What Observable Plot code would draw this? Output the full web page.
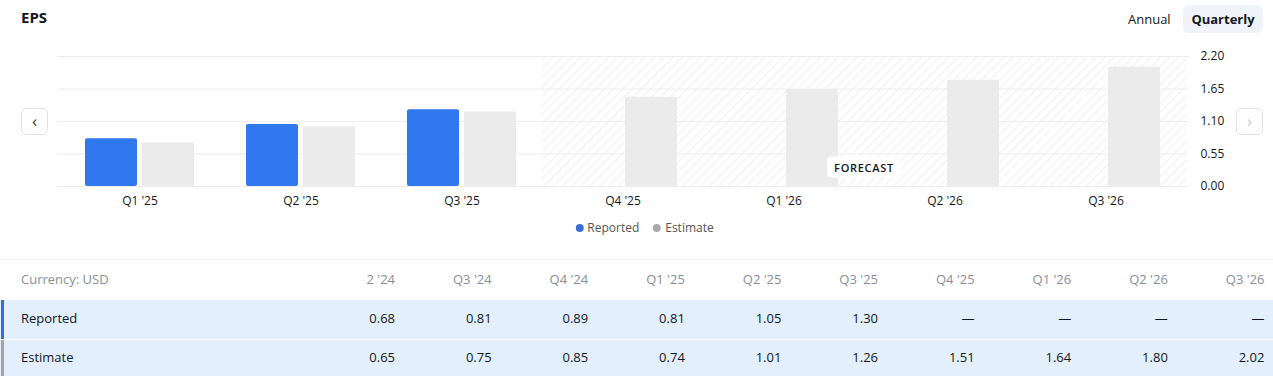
<!DOCTYPE html>
<html>
<head>
<meta charset="utf-8">
<script src="https://cdn.jsdelivr.net/npm/d3@7"></script>
<script src="https://cdn.jsdelivr.net/npm/@observablehq/plot@0.6"></script>
<style>
  html, body { margin: 0; padding: 0; background: #fff; }
  #root { position: relative; width: 1273px; height: 376px; overflow: hidden; font-family: "Open Sans", "Noto Sans", sans-serif; color: #131722; }
  .abs { position: absolute; }
  #title { left: 21px; top: 7px; font-size: 15px; font-weight: 700; }
  #annual { left: 1128px; top: 10px; font-size: 13px; color: #131722; }
  #quarterly { left: 1183px; top: 5px; width: 80px; height: 28px; line-height: 28px; text-align: center; background: #f0f3fa; border-radius: 6px; font-size: 13px; font-weight: 700; }
  .navbtn { width: 27px; height: 27px; border: 1px solid #e0e3eb; border-radius: 5px; background: #fff; text-align: center; line-height: 24px; font-size: 17px; box-sizing: border-box; }
  #forecast { height: 21px; line-height: 21px; padding: 0 7px; background: #fff; border-radius: 4px; font-size: 11px; font-weight: 600; letter-spacing: 0.7px; color: #131722; transform: translate(-50%, -50%); white-space: nowrap; }
  #legend { top: 219px; font-size: 12px; color: #555; display: flex; gap: 14px; transform: translateX(-50%); white-space: nowrap; }
  #legend span.dot { display: inline-block; width: 8px; height: 8px; border-radius: 50%; margin-right: 4px; }
  .cell { position: absolute; text-align: right; font-size: 13px; white-space: nowrap; }
</style>
</head>
<body>
<div id="root">
  <div id="title" class="abs">EPS</div>
  <div id="annual" class="abs">Annual</div>
  <div id="quarterly" class="abs">Quarterly</div>
  <div id="chart" class="abs" style="left:0;top:40px;"></div>
  <div class="abs navbtn" style="left:21px;top:108px;color:#333;">&#8249;</div>
  <div class="abs navbtn" style="left:1236px;top:108px;color:#c8c8c8;">&#8250;</div>
  <div id="forecast" class="abs">FORECAST</div>
  <div id="legend" class="abs"></div>
  <div id="table" class="abs" style="left:0;top:258px;width:1273px;height:118px;"></div>
</div>
<script>
// ---- data ----
const quarters = ["Q1 '25", "Q2 '25", "Q3 '25", "Q4 '25", "Q1 '26", "Q2 '26", "Q3 '26"];
const reported = [0.81, 1.05, 1.30, null, null, null, null];
const estimate = [0.74, 1.01, 1.26, 1.51, 1.64, 1.80, 2.02];
const forecastQuarters = ["Q4 '25", "Q1 '26", "Q2 '26", "Q3 '26"];
const yTicks = [0, 0.55, 1.10, 1.65, 2.20];
const seriesNames = ["Reported", "Estimate"];

// table (the first column is scrolled partly out of view in the reference)
const tableQuarters = ["2 '24", "Q3 '24", "Q4 '24", "Q1 '25", "Q2 '25", "Q3 '25", "Q4 '25", "Q1 '26", "Q2 '26", "Q3 '26"];
const tableReported = [0.68, 0.81, 0.89, 0.81, 1.05, 1.30, null, null, null, null];
const tableEstimate = [0.65, 0.75, 0.85, 0.74, 1.01, 1.26, 1.51, 1.64, 1.80, 2.02];
const currencyLabel = "Currency: USD";

// ---- colors ----
const blue = "#3177ee";
const grey = "#ebebeb";

const rows = quarters.map((q, i) => ({q, r: reported[i], e: estimate[i]}));
const paddingInner = 0.325;

const plot = Plot.plot({
  width: 1273,
  height: 175,
  marginLeft: 57,
  marginRight: 85,
  marginTop: 16,
  marginBottom: 29,
  style: {fontFamily: "'Open Sans', 'Noto Sans', sans-serif", fontSize: "12px", color: "#131722", background: "transparent"},
  x: {domain: quarters, paddingInner, paddingOuter: paddingInner / 2, align: 0.5, axis: null, label: null},
  y: {domain: [0, 2.2], axis: null, label: null},
  marks: [
    Plot.barY(forecastQuarters, {x: d => d, y1: 0, y2: 2.2, fill: "url(#hatch)", insetLeft: -26.25, insetRight: -26.25}),
    Plot.gridY(yTicks, {stroke: "#ececec", strokeOpacity: 1}),
    Plot.barY(rows.filter(d => d.r != null), {x: "q", y: "r", fill: blue, insetRight: 57, rx: 2}),
    Plot.barY(rows, {x: "q", y: "e", fill: grey, insetLeft: 57, rx: 1}),
    Plot.axisX({tickSize: 0, tickPadding: 10, fill: "#131722", fontSize: 12, label: null}),
    Plot.axisY(yTicks, {anchor: "right", tickSize: 0, tickPadding: 12, tickFormat: d3.format(".2f"), textAnchor: "start", fill: "#131722", fontSize: 12, label: null})
  ]
});

// hatch pattern
const svg = d3.select(plot);
const defs = svg.insert("defs", ":first-child");
const pat = defs.append("pattern").attr("id", "hatch").attr("patternUnits", "userSpaceOnUse")
  .attr("width", 6.5).attr("height", 6.5).attr("patternTransform", "rotate(45)");
pat.append("rect").attr("width", 6.5).attr("height", 6.5).attr("fill", "#fff");
pat.append("line").attr("x1", 0.5).attr("y1", 0).attr("x2", 0.5).attr("y2", 6.5).attr("stroke", "#f0f0f0").attr("stroke-width", 1);
document.getElementById("chart").appendChild(plot);

// forecast label positioned through the x and y scales
const xs = plot.scale("x");
const ys = plot.scale("y");
const gap = (xs.step - xs.bandwidth) / 2;
const fLeft = xs.apply(forecastQuarters[0]) - gap;
const fRight = xs.apply(forecastQuarters[forecastQuarters.length - 1]) + xs.bandwidth + gap;
const fc = document.getElementById("forecast");
fc.style.left = ((fLeft + fRight) / 2) + "px";
fc.style.top = (40 + ys.apply(0.33)) + "px";

// legend
const legend = document.getElementById("legend");
legend.style.left = ((xs.range[0] + xs.range[1]) / 2 + 22) + "px";
[[seriesNames[0], "#3a6fd8"], [seriesNames[1], "#aaaaaa"]].forEach(([name, c]) => {
  const s = document.createElement("div");
  s.innerHTML = `<span class="dot" style="background:${c}"></span>${name}`;
  legend.appendChild(s);
});

// table
const table = document.getElementById("table");
table.innerHTML = `
  <div class="abs" style="left:0;top:1px;width:1273px;height:1px;background:#f0f3fa"></div>
  <div class="abs" style="left:0;top:42px;width:1273px;height:39px;background:#e3effd"></div>
  <div class="abs" style="left:0;top:82px;width:1273px;height:36px;background:#e3effd"></div>
  <div class="abs" style="left:1px;top:42px;width:3px;height:39px;background:#2f6fd6"></div>
  <div class="abs" style="left:1px;top:82px;width:3px;height:36px;background:#a3a3a3"></div>
  <div class="abs" style="left:21px;top:12px;font-size:13px;color:#8a8e97">${currencyLabel}</div>
  <div class="abs" style="left:21px;top:51px;font-size:13px;color:#131722">${seriesNames[0]}</div>
  <div class="abs" style="left:21px;top:90px;font-size:13px;color:#131722">${seriesNames[1]}</div>
  <div id="cols" class="abs" style="left:370px;top:0;width:903px;height:118px"></div>`;
const cols = document.getElementById("cols");
const colStep = 96.6;
const firstRight = 395 - 370;
const fmt = v => v == null ? "\u2014" : v.toFixed(2);
tableQuarters.forEach((q, i) => {
  const right = firstRight + i * colStep;
  const mk = (txt, top, color) => {
    const d = document.createElement("div");
    d.className = "cell";
    d.style.right = (903 - right) + "px";
    d.style.top = top + "px";
    d.style.color = color;
    d.textContent = txt;
    cols.appendChild(d);
  };
  mk(q, 12, "#8a8e97");
  mk(fmt(tableReported[i]), 51, "#131722");
  mk(fmt(tableEstimate[i]), 90, "#131722");
});
</script>
</body>
</html>
